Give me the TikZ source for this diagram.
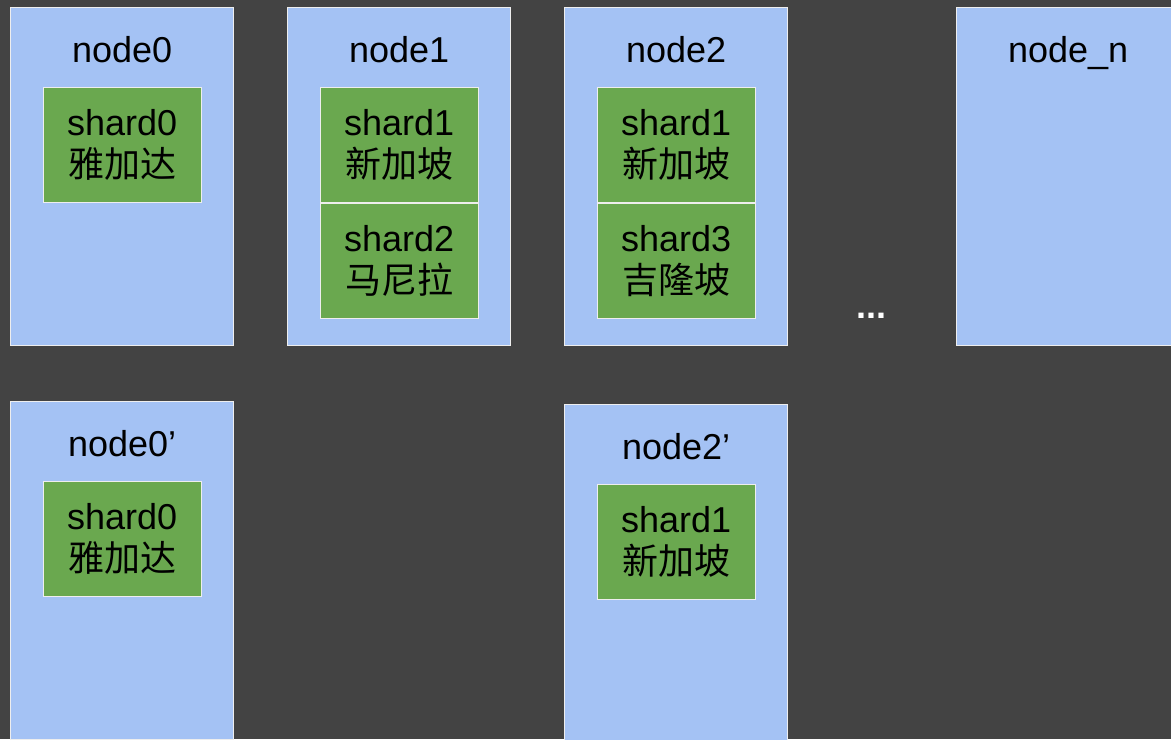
\documentclass[tikz,border=0pt]{standalone}
\usepackage{fontspec}
\setmainfont{Liberation Sans}
\newfontfamily\cjk{Noto Sans CJK SC}
\usetikzlibrary{positioning}
\definecolor{bgGrey}{HTML}{434343}
\definecolor{nodeBlue}{HTML}{A4C2F4}
\definecolor{shardGreen}{HTML}{6AA84F}
\definecolor{rimGrey}{HTML}{EEEEEE}
\tikzstyle{machine}=[rectangle, draw=rimGrey, fill=nodeBlue, line width=0.6pt, minimum width=111.5pt, minimum height=169pt, inner sep=0pt, anchor=north west]
\tikzstyle{title}=[font=\fontsize{18}{21}\selectfont, inner sep=0pt, anchor=base]
\tikzstyle{shard}=[rectangle, draw=rimGrey, fill=shardGreen, line width=0.6pt, minimum width=79pt, minimum height=57.5pt, inner sep=0pt, align=center, font=\fontsize{18}{21}\selectfont]

\begin{document}
\begin{tikzpicture}[x=0.5pt, y=-0.5pt]
  \fill[bgGrey] (0,0) rectangle (1171,739);
  \clip (0,0) rectangle (1171,739);
  % first row
  \node[machine] (n0) at (10,7) {};
  \node[machine] (n1) at (287,7) {};
  \node[machine] (n2) at (564,7) {};
  \node[machine] (nn) at (956,7) {};
  \node[title] (t0) at ([yshift=-27.5pt]n0.north) {node0};
  \node[title] (t1) at ([yshift=-27.5pt]n1.north) {node1};
  \node[title] (t2) at ([yshift=-27.5pt]n2.north) {node2};
  \node[title] (tn) at ([yshift=-27.5pt]nn.north) {node\_n};
  \node[shard, anchor=north] (s0) at ([yshift=-40pt]n0.north) {shard0\\{\cjk 雅加达}};
  \node[shard, anchor=north] (s11) at ([yshift=-40pt]n1.north) {shard1\\{\cjk 新加坡}};
  \node[shard] (s12) [below=0pt of s11] {shard2\\{\cjk 马尼拉}};
  \node[shard, anchor=north] (s21) at ([yshift=-40pt]n2.north) {shard1\\{\cjk 新加坡}};
  \node[shard] (s23) [below=0pt of s21] {shard3\\{\cjk 吉隆坡}};
  \node[title, font=\fontsize{18}{21}\selectfont\bfseries, text=white] (dots) at (871,318) {...};
  % second row
  \node[machine] (n0b) at (10,401) {};
  \node[machine] (n2b) at (564,404) {};
  \node[title] (t0b) at ([yshift=-27.5pt]n0b.north) {node0’};
  \node[title] (t2b) at ([yshift=-27.5pt]n2b.north) {node2’};
  \node[shard, anchor=north] (s0b) at ([yshift=-40pt]n0b.north) {shard0\\{\cjk 雅加达}};
  \node[shard, anchor=north] (s2b) at ([yshift=-40pt]n2b.north) {shard1\\{\cjk 新加坡}};
\end{tikzpicture}
\end{document}
